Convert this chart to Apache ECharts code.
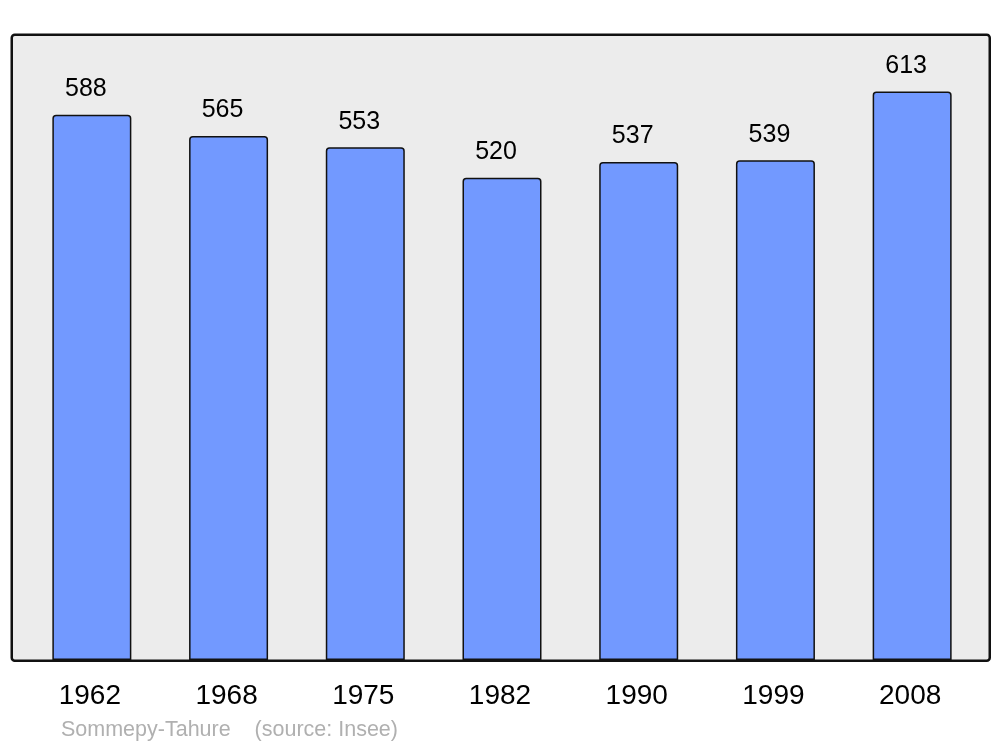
<!DOCTYPE html>
<html>
<head>
<meta charset="utf-8">
<script src="https://cdn.jsdelivr.net/npm/echarts@6/dist/echarts.min.js"></script>
<style>
html,body{margin:0;padding:0;background:#fff;}
#chart{width:1000px;height:747px;}
</style>
</head>
<body>
<div id="chart"></div>
<script>
const years = ['1962','1968','1975','1982','1990','1999','2008'];
const population = [588, 565, 553, 520, 537, 539, 613];
const sourceText = 'Sommepy-Tahure    (source: Insee)';

const FONT = '"Liberation Sans", Arial, sans-serif';
const chart = echarts.init(document.getElementById('chart'), null, {renderer:'canvas'});
chart.setOption({
  animation: false,
  backgroundColor: '#ffffff',
  graphic: [
    {type:'rect', left:10.5, top:33.5, z:-10, shape:{width:978, height:626, r:3},
     style:{fill:'#ececec', stroke:'#111', lineWidth:2.5}},
    {type:'text', x:61, y:730.5, z:10,
     style:{text:sourceText, fill:'#b0b0b0', fontSize:21.5, fontFamily:FONT, verticalAlign:'middle', align:'left'}}
  ],
  grid: {left:23.5, right:19.5, top:34, bottom:87},
  xAxis: {
    type:'category', data: years,
    axisLine:{show:false}, axisTick:{show:false},
    axisLabel:{color:'#000', fontSize:28, fontFamily:FONT, margin:22, padding:[0,4,0,0]}
  },
  yAxis: {type:'value', min:0, max:675, show:false, splitLine:{show:false}},
  series: [{
    type:'bar', data: population, barWidth:79,
    itemStyle:{color:'#7299ff', borderColor:'#111', borderWidth:1.5, borderRadius:[3,3,0,0]},
    label:{show:true, position:'top', distance:14, offset:[-6,1], color:'#000', fontSize:25, fontFamily:FONT}
  }]
});
</script>
</body>
</html>
